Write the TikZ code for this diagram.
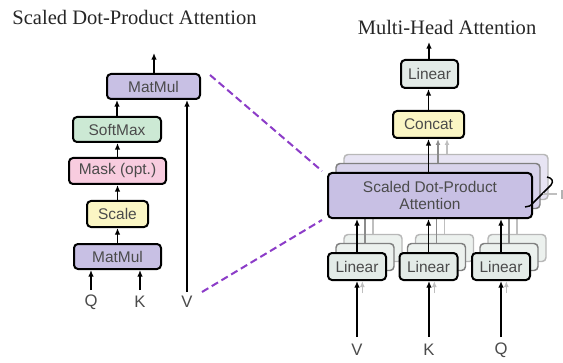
\documentclass[tikz,border=0pt]{standalone}
\usepackage{fontspec}
\setmainfont{Liberation Serif}
\setsansfont{Liberation Sans}
\usetikzlibrary{arrows.meta}
\definecolor{purpfill}{RGB}{200,192,228}
\definecolor{purpfillb}{RGB}{216,211,235}
\definecolor{purpfillc}{RGB}{231,228,243}
\definecolor{greenfill}{RGB}{204,233,212}
\definecolor{pinkfill}{RGB}{248,204,223}
\definecolor{yellowfill}{RGB}{251,246,196}
\definecolor{linfill}{RGB}{227,235,231}
\definecolor{linfillb}{RGB}{236,241,238}
\definecolor{txtgray}{RGB}{75,75,75}
\definecolor{dashpurp}{RGB}{140,60,200}
\begin{document}
\begin{tikzpicture}[x=0.75pt,y=-0.75pt,
  box/.style={draw=black, line width=1.5pt, rounded corners=3pt, inner sep=0pt,
    font=\sffamily\fontsize{11.6}{14}\selectfont, text=txtgray, align=center},
  boxb/.style={draw=black!50, line width=1.1pt, rounded corners=3pt, inner sep=0pt},
  boxc/.style={draw=black!28, line width=1.1pt, rounded corners=3pt, inner sep=0pt},
  arr/.style={line width=1.2pt, -{Latex[length=5pt,width=4.2pt]}},
  arrb/.style={draw=black!45, line width=1pt, -{Latex[length=4.5pt,width=3.6pt]}},
  arrc/.style={draw=black!25, line width=1pt, -{Latex[length=4.5pt,width=3.6pt]}},
  lineb/.style={draw=black!45, line width=1pt},
  linec/.style={draw=black!25, line width=1pt},
  inlabel/.style={font=\sffamily\fontsize{12.5}{14}\selectfont, text=txtgray, inner sep=0pt},
  title/.style={font=\fontsize{15.4}{18}\selectfont, text=black!85, inner sep=0pt},
  dashline/.style={draw=dashpurp, line width=1.5pt, dash pattern=on 5.5pt off 3pt}
]
\useasboundingbox[fill=white] (0,0) rectangle (563,363);

% ---------------- Left: Scaled Dot-Product Attention ----------------
\node[title] (ltitle) at (134.5,17) {Scaled Dot-Product Attention};

\node[box, fill=purpfill, minimum width=69.75pt, minimum height=18.75pt] (mm2) at (153.5,86.5) {MatMul};
\node[box, fill=greenfill, minimum width=66pt, minimum height=18.75pt] (soft) at (117,129.5) {SoftMax};
\node[box, fill=pinkfill, minimum width=72.75pt, minimum height=19.5pt] (mask) at (117.5,171) {Mask (opt.)};
\node[box, fill=yellowfill, minimum width=45.75pt, minimum height=19.5pt] (scale) at (117.5,214) {Scale};
\node[box, fill=purpfill, minimum width=65.25pt, minimum height=18.75pt] (mm1) at (117.5,256.5) {MatMul};

\node[inlabel] (lq) at (91,302) {Q};
\node[inlabel] (lk) at (140,302) {K};
\node[inlabel] (lv) at (187,302) {V};

\coordinate (lout) at (154,53);
\coordinate (qin) at (91,290);
\coordinate (kin) at (140,290);
\coordinate (vin) at (187,292);

\draw[arr] (mm2.north -| lout) -- (lout);
\draw[arr] (soft.north) -- (soft.north |- mm2.south);
\draw[arr] (mask.north) -- (mask.north |- soft.south);
\draw[arr] (scale.north) -- (scale.north |- mask.south);
\draw[arr] (mm1.north) -- (mm1.north |- scale.south);
\draw[arr] (qin) -- (qin |- mm1.south);
\draw[arr] (kin) -- (kin |- mm1.south);
\draw[arr] (vin) -- (vin |- mm2.south);

% ---------------- Right: Multi-Head Attention ----------------
\node[title] (rtitle) at (447,27) {Multi-Head Attention};

% back layer 3
\node[boxc, fill=purpfillc, minimum width=153pt, minimum height=33.75pt] (sdpa3) at (446,177) {};
\node[boxc, fill=linfillb, minimum width=43.5pt, minimum height=20.25pt] (linV3) at (373,248) {};
\node[boxc, fill=linfillb, minimum width=43.5pt, minimum height=20.25pt] (linK3) at (444.5,248) {};
\node[boxc, fill=linfillb, minimum width=43.5pt, minimum height=20.25pt] (linQ3) at (517,248) {};
\draw[linec] (linV3.north) -- (linV3.north |- sdpa3.south);
\draw[linec] (linK3.north) -- (linK3.north |- sdpa3.south);
\draw[linec] (linQ3.north) -- (linQ3.north |- sdpa3.south);

% back layer 2
\node[boxb, fill=purpfillb, minimum width=153pt, minimum height=33.75pt] (sdpa2) at (438,186) {};
\node[boxb, fill=linfillb, minimum width=43.5pt, minimum height=20.25pt] (linV2) at (365,257) {};
\node[boxb, fill=linfillb, minimum width=43.5pt, minimum height=20.25pt] (linK2) at (436.5,257) {};
\node[boxb, fill=linfillb, minimum width=43.5pt, minimum height=20.25pt] (linQ2) at (509,257) {};
\draw[lineb] (linV2.north) -- (linV2.north |- sdpa2.south);
\draw[lineb] (linK2.north) -- (linK2.north |- sdpa2.south);
\draw[lineb] (linQ2.north) -- (linQ2.north |- sdpa2.south);

% front layer
\node[box, fill=purpfill, minimum width=153pt, minimum height=33.75pt] (sdpa) at (430,195.5) {Scaled Dot-Product\\[-1pt]Attention};
\node[box, fill=linfill, minimum width=43.5pt, minimum height=20.25pt] (linV) at (357,266.5) {Linear};
\node[box, fill=linfill, minimum width=43.5pt, minimum height=20.25pt] (linK) at (428.5,266.5) {Linear};
\node[box, fill=linfill, minimum width=43.5pt, minimum height=20.25pt] (linQ) at (501,266.5) {Linear};

\node[box, fill=yellowfill, minimum width=53.25pt, minimum height=20.25pt] (concat) at (428.5,124.5) {Concat};
\node[box, fill=linfill, minimum width=42.75pt, minimum height=21pt] (lintop) at (429.5,74) {Linear};

\node[inlabel] (rv) at (357,350) {V};
\node[inlabel] (rk) at (429,350) {K};
\node[inlabel] (rq) at (501,350) {Q};

\coordinate (rvin) at (357,337);
\coordinate (rkin) at (429,337);
\coordinate (rqin) at (501,337);
\coordinate (rout) at (429,42);
\coordinate (g2) at (438,163);
\coordinate (g3) at (447,154);

% faint input arrows of the back heads
\draw[arrc] ([xshift=4]rvin |- 0,293) -- ([xshift=4]rvin |- linV.south);
\draw[arrc] ([xshift=4]rkin |- 0,293) -- ([xshift=4]rkin |- linK.south);
\draw[arrc] ([xshift=4]rqin |- 0,293) -- ([xshift=4]rqin |- linQ.south);

\draw[arr] (rvin) -- (rvin |- linV.south);
\draw[arr] (rkin) -- (rkin |- linK.south);
\draw[arr] (rqin) -- (rqin |- linQ.south);
\draw[arr] (linV.north) -- (linV.north |- sdpa.south);
\draw[arr] (linK.north) -- (linK.north |- sdpa.south);
\draw[arr] (linQ.north) -- (linQ.north |- sdpa.south);

\draw[arrc] (g3) -- (g3 |- concat.south);
\draw[arrb] (g2) -- (g2 |- concat.south);
\draw[arr] (sdpa.north -| concat.south) -- (concat.south);
\draw[arr] (concat.north) -- (concat.north |- lintop.south);
\draw[arr] (lintop.north -| rout) -- (rout);

% head bracket
\coordinate (br1) at (547,177);
\coordinate (br2) at (525,207);
\draw[line width=1.1pt] (br1) .. controls (552,178) and (554,181) .. (551,185) -- (534,202) .. controls (531,206) and (528,207) .. (br2);
\draw[draw=black!25, line width=1pt] (543,194) -- (557,194);
\draw[draw=black!30, line width=1pt] (562,190) -- (562,199);

% dashed zoom lines
\coordinate (d1) at (210,75);
\coordinate (d2) at (202,292);
\draw[dashline] (d1) -- ([shift={(-5,-1)}]sdpa.north west);
\draw[dashline] (d2) -- ([shift={(-5,1)}]sdpa.south west);
\end{tikzpicture}
\end{document}
